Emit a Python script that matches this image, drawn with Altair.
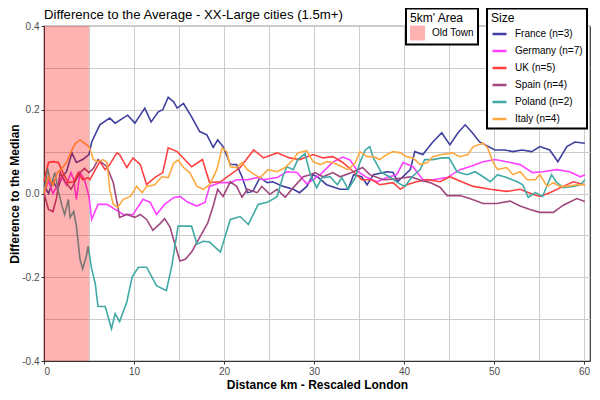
import altair as alt
import pandas as pd

chart_title = ["Difference to the Average - XX-Large cities (1.5m+)"]
countries = ["France (n=3)", "Germany (n=7)", "UK (n=5)", "Spain (n=4)", "Poland (n=2)", "Italy (n=4)"]
colors = ["#4040A0", "#FF40FF", "#FF4040", "#A0487E", "#40AAA5", "#FFA940"]

# (distance km, difference to the median)
france = [(0, 0.02), (0.5, 0.0), (1, 0.03), (1.5, 0.01), (2, 0.04), (2.5, 0.052), (3.1, 0.097), (3.6, 0.074),
          (4.3, 0.081), (5.0, 0.093), (5.3, 0.123), (6.2, 0.164), (7.3, 0.18), (7.9, 0.168), (9.3, 0.187),
          (10.1, 0.168), (11.2, 0.204), (11.9, 0.171), (12.7, 0.195), (13.2, 0.2), (13.8, 0.23), (14.4, 0.219),
          (14.8, 0.204), (15.5, 0.215), (16.4, 0.183), (17.3, 0.148), (18.1, 0.14), (18.8, 0.11), (19.3, 0.128),
          (19.9, 0.112), (20.7, 0.07), (21.4, 0.069), (22.0, 0.04), (22.6, 0.002), (23.2, 0.005), (24.0, 0.038),
          (24.8, 0.026), (25.4, 0.028), (26.6, 0.017), (27.7, 0.01), (28.4, 0.002), (29.2, 0.017), (29.9, 0.045),
          (30.5, 0.038), (31.4, 0.021), (32.9, 0.01), (33.8, 0.01), (34.4, 0.045), (35.3, 0.04), (35.9, 0.021),
          (36.6, 0.045), (38.1, 0.052), (38.8, 0.05), (39.3, 0.028), (40.7, 0.057), (41.2, 0.1), (42.1, 0.093),
          (43.2, 0.123), (44.2, 0.145), (45.1, 0.116), (46.0, 0.145), (46.8, 0.164), (47.6, 0.145), (48.4, 0.123),
          (50.1, 0.104), (51.2, 0.104), (52.1, 0.1), (53.1, 0.104), (54.2, 0.1), (55.1, 0.112), (56.2, 0.104),
          (57.1, 0.076), (58.1, 0.112), (59.0, 0.123), (60.1, 0.12)]

germany = [(0, 0.0), (0.5, 0.03), (1, 0.0), (1.5, 0.02), (2, 0.04), (2.5, 0.02), (3, 0.05), (3.3, 0.033),
           (3.6, -0.014), (4, 0.05), (4.5, 0.033), (5, -0.007), (5.3, -0.062), (6, -0.026), (7, -0.026),
           (7.9, -0.038), (8.8, -0.05), (9.9, -0.05), (11, -0.014), (11.8, -0.021), (12.5, -0.05), (13.4, -0.026),
           (14.4, -0.01), (15.1, -0.007), (16, -0.021), (17, -0.03), (17.9, -0.021), (18.4, 0.017), (19.6, 0.026),
           (20.7, 0.026), (21.4, 0.033), (22.6, 0.033), (23.7, 0.038), (24.4, 0.033), (25.9, 0.038), (27, 0.052),
           (28.1, 0.05), (29.2, 0.023), (30.7, 0.045), (32.1, 0.075), (33.2, 0.087), (34, 0.08), (34.9, 0.052),
           (35.9, 0.038), (37, 0.028), (38.1, 0.038), (39.2, 0.045), (39.9, 0.074), (41, 0.064), (42.1, 0.033),
           (43.2, 0.033), (44.8, 0.038), (46.2, 0.057), (47.3, 0.064), (48.8, 0.076), (50.1, 0.081), (51.4, 0.076),
           (52.9, 0.069), (54.3, 0.05), (55.4, 0.052), (57, 0.057), (58.4, 0.052), (59.6, 0.04), (60.1, 0.045)]

uk = [(0, 0.03), (0.5, 0.074), (1, 0.076), (1.6, 0.074), (2.1, 0.05), (2.7, 0.026), (3.3, 0.028), (3.8, 0.05),
      (4.3, 0.033), (4.9, 0.038), (5.1, 0.033), (5.7, 0.057), (6.2, 0.076), (6.8, 0.057), (7.3, 0.069),
      (8.1, 0.097), (8.4, 0.093), (9.2, 0.062), (9.9, 0.085), (10.7, 0.069), (11.4, 0.021), (12.3, 0.038),
      (13.2, 0.05), (13.8, 0.109), (14.8, 0.1), (15.1, 0.093), (16.4, 0.064), (17.6, 0.081), (18.4, 0.026),
      (19.6, 0.028), (20.7, 0.045), (21.8, 0.062), (23.3, 0.104), (24.4, 0.085), (25.9, 0.097), (27.3, 0.085),
      (28.4, 0.081), (29.9, 0.093), (31, 0.085), (32.1, 0.088), (33.2, 0.074), (34.4, 0.052), (35.3, 0.033),
      (36.4, 0.033), (37.3, 0.021), (38.8, 0.026), (39.6, 0.01), (40.3, 0.021), (41.4, 0.028), (42.6, 0.033),
      (44, 0.028), (45.1, 0.04), (46.2, 0.03), (47.7, 0.017), (49.6, 0.01), (51.4, 0.005), (52.9, 0.01),
      (54.3, -0.002), (55.1, -0.007), (56.2, 0.002), (57.7, 0.017), (58.8, 0.028), (60.1, 0.021)]

spain = [(0, 0.0), (0.5, -0.038), (1, -0.043), (1.4, -0.01), (1.8, 0.05), (2.3, 0.03), (3, 0.01), (3.5, 0.03),
         (4, 0.05), (4.5, 0.06), (5, 0.05), (5.5, 0.06), (6, 0.081), (7, 0.064), (7.7, 0.026), (8.2, -0.031),
         (8.4, -0.057), (9.2, -0.05), (10.1, -0.057), (10.7, -0.05), (11.4, -0.062), (12.1, -0.088), (12.9, -0.072),
         (13.4, -0.06), (14, -0.08), (14.4, -0.11), (15.1, -0.161), (15.7, -0.157), (16.4, -0.14), (17.3, -0.105),
         (18.2, -0.07), (18.8, -0.03), (19.3, 0.01), (19.9, -0.007), (20.7, 0.028), (21.4, 0.017), (22, -0.009),
         (22.6, 0.01), (23.7, 0.002), (24.2, 0.017), (25.1, -0.002), (25.9, 0.01), (26.8, -0.009), (27.7, 0.014),
         (28.8, 0.04), (29.6, 0.045), (30.1, 0.05), (31, 0.04), (32.1, 0.05), (32.9, 0.04), (34.4, 0.052),
         (35.4, 0.062), (36.2, 0.045), (37.7, 0.033), (39.2, 0.035), (40.7, 0.04), (41.8, 0.032), (42.9, 0.026),
         (44, 0.015), (44.8, -0.005), (46.2, -0.005), (47.3, -0.012), (48.8, -0.024), (50.3, -0.024), (51.8, -0.018),
         (52.9, -0.03), (54, -0.038), (55.1, -0.045), (56.6, -0.045), (57.7, -0.028), (59.2, -0.012), (60.1, -0.019)]

poland = [(0, 0.0), (0.4, 0.06), (0.8, 0.02), (1.2, 0.05), (1.6, 0.005), (2.0, -0.03), (2.3, -0.05), (2.7, -0.014),
          (2.9, -0.057), (3.3, -0.043), (3.6, -0.078), (4.0, -0.157), (4.3, -0.18), (4.7, -0.15), (4.9, -0.126),
          (5.3, -0.18), (5.7, -0.216), (6.0, -0.27), (6.8, -0.27), (7.5, -0.323), (7.9, -0.287), (8.4, -0.306),
          (9.2, -0.259), (9.8, -0.199), (10.5, -0.176), (11.4, -0.176), (12.5, -0.22), (13.6, -0.232), (14.2, -0.173),
          (14.9, -0.078), (15.7, -0.078), (16.4, -0.078), (17.0, -0.121), (17.7, -0.114), (18.4, -0.116),
          (19.6, -0.14), (20.7, -0.062), (21.8, -0.055), (22.7, -0.074), (23.8, -0.026), (24.8, -0.021),
          (25.4, -0.014), (25.9, -0.007), (26.6, 0.045), (27.0, 0.064), (27.7, 0.057), (28.2, 0.081), (29.0, 0.095),
          (29.6, 0.045), (30.3, 0.014), (30.9, 0.038), (31.8, 0.04), (32.6, 0.021), (33.1, 0.038), (33.8, 0.01),
          (34.6, 0.038), (35.1, 0.074), (35.7, 0.104), (36.2, 0.112), (36.6, 0.085), (37.5, 0.05), (38.4, 0.04),
          (39.3, 0.026), (40.1, 0.017), (40.9, 0.04), (41.8, 0.057), (42.3, 0.081), (43.2, 0.081), (44.2, 0.085),
          (45.0, 0.085), (45.9, 0.052), (47.0, 0.045), (47.9, 0.052), (48.8, 0.04), (49.6, 0.028), (50.4, 0.045),
          (51.4, 0.038), (52.6, 0.028), (53.2, 0.021), (53.8, -0.009), (54.6, 0.002), (55.4, -0.007), (56.4, 0.045),
          (56.9, 0.028), (57.7, 0.014), (58.8, 0.017), (59.6, 0.021), (60.1, 0.033)]

italy = [(0, 0.0), (0.5, 0.04), (1, 0.02), (1.5, 0.05), (2, 0.06), (2.5, 0.074), (3.1, 0.104), (3.5, 0.12),
         (4, 0.128), (4.5, 0.12), (5, 0.112), (5.5, 0.081), (6, 0.076), (6.6, 0.081), (7, 0.074), (7.3, 0.01),
         (7.7, -0.026), (8.2, -0.033), (8.8, -0.014), (9.6, -0.007), (10.3, 0.017), (10.9, 0.002), (11.4, 0.017),
         (12.3, 0.021), (13.1, 0.04), (13.8, 0.038), (14.4, 0.072), (14.9, 0.08), (15.5, 0.062), (16.2, 0.05),
         (17, 0.017), (17.7, 0.01), (18.4, 0.021), (19.2, 0.057), (19.8, 0.109), (20.3, 0.1), (20.7, 0.064),
         (21.4, 0.062), (22, 0.074), (22.6, 0.057), (23.4, 0.045), (24, 0.038), (24.9, 0.057), (25.9, 0.052),
         (26.8, 0.062), (27.7, 0.081), (28.2, 0.097), (29.2, 0.102), (29.9, 0.076), (30.7, 0.069), (31.4, 0.076),
         (32.1, 0.074), (33.1, 0.064), (33.8, 0.057), (34.6, 0.074), (35.1, 0.1), (35.9, 0.088), (36.6, 0.088),
         (37.3, 0.081), (38.1, 0.093), (38.8, 0.1), (39.6, 0.097), (40.3, 0.088), (41, 0.085), (41.8, 0.069),
         (42.6, 0.074), (43.2, 0.088), (44.2, 0.093), (45.4, 0.097), (46.2, 0.088), (47.1, 0.093), (47.7, 0.112),
         (48.8, 0.12), (49.3, 0.109), (49.9, 0.074), (50.4, 0.057), (51.4, 0.062), (52.1, 0.045), (52.9, 0.052),
         (53.7, 0.033), (54.6, 0.033), (55.1, 0.045), (55.9, 0.017), (56.6, 0.026), (57.3, 0.017), (58.1, 0.017),
         (59.2, 0.021), (60.1, 0.021)]

old_town_start = [0]
old_town_end = [5]
old_town_label = ["Old Town"]

x_grid = list(range(0, 61, 5))
y_grid = [round(-0.4 + 0.1 * i, 1) for i in range(9)]

rows = []
for name, series in zip(countries, [france, germany, uk, spain, poland, italy]):
    for i, (km, v) in enumerate(series):
        rows.append({"country": name, "km": km, "value": v, "idx": i})
df = pd.DataFrame(rows)

area_df = pd.DataFrame({"start": old_town_start, "end": old_town_end, "area": old_town_label})
title_df = pd.DataFrame({"t": chart_title})

FONT = "Liberation Sans"

x_axis = alt.Axis(
    values=x_grid,
    labelExpr="datum.value % 10 == 0 ? datum.label : ''",
    tickOpacity={"condition": {"test": "datum.value % 10 == 0", "value": 1}, "value": 0},
    title="Distance km - Rescaled London",
    titleFontSize=12, titleFontWeight="bold", titleColor="black", titlePadding=3,
    labelFontSize=10, labelColor="#4D4D4D", labelPadding=2,
    tickSize=3, tickColor="#333333", domainColor="#333333",
    grid=True, gridColor="#CCCCCC", gridWidth=1,
)
y_axis = alt.Axis(
    values=y_grid,
    labelExpr="abs(round(datum.value*10)) % 2 == 0 ? replace(format(datum.value, '.1f'), '\u2212', '-') : ''",
    tickOpacity={"condition": {"test": "abs(round(datum.value*10)) % 2 == 0", "value": 1}, "value": 0},
    title="Difference to the Median",
    titleFontSize=12, titleFontWeight="bold", titleColor="black", titlePadding=0,
    labelFontSize=10, labelColor="#4D4D4D", labelPadding=2,
    tickSize=3, tickColor="#333333", domainColor="#333333",
    grid=True, gridColor="#CCCCCC", gridWidth=1,
)
x_scale = alt.Scale(domain=[0, 60.67], nice=False, zero=False)
y_scale = alt.Scale(domain=[-0.4, 0.4], nice=False)

lines = alt.Chart(df).mark_line(strokeWidth=1.6).encode(
    x=alt.X("km:Q", scale=x_scale, axis=x_axis),
    y=alt.Y("value:Q", scale=y_scale, axis=y_axis),
    color=alt.Color(
        "country:N",
        scale=alt.Scale(domain=countries, range=colors),
        legend=alt.Legend(
            title="Size", orient="none", legendX=443, legendY=-17.5,
            symbolType="stroke", symbolSize=196, symbolStrokeWidth=2.5,
            rowPadding=3, labelOffset=7, padding=4, titlePadding=1,
            strokeColor="black", fillColor="white",
        ),
    ),
    order="idx:Q",
)

area = alt.Chart(area_df).mark_rect(opacity=0.3).encode(
    x=alt.X("start:Q", scale=x_scale, axis=x_axis),
    x2="end:Q",
    fill=alt.Fill(
        "area:N",
        scale=alt.Scale(domain=old_town_label, range=["#FF0000"]),
        legend=alt.Legend(
            title="5km' Area", orient="none", legendX=362, legendY=-17.5,
            symbolType="square", symbolSize=225, symbolOpacity=0.3, symbolStrokeWidth=0,
            labelOffset=7, padding=4, titlePadding=1,
            strokeColor="black", fillColor="white",
        ),
    ),
)

title_text = alt.Chart(title_df).mark_text(
    align="left", baseline="alphabetic", fontSize=13.2, color="black", font=FONT
).encode(x=alt.value(0), y=alt.value(-7), text="t:N")

chart = alt.layer(lines, area, title_text).resolve_scale(color="independent").properties(
    width=546, height=335,
    autosize=alt.AutoSizeParams(type="none"),
    padding={"left": 36, "top": 18, "right": 2, "bottom": 31},
).configure(font=FONT).configure_view(
    stroke="#333333", strokeWidth=1.2
).configure_legend(
    labelFontSize=10, titleFontSize=12, titleFontWeight="normal", labelColor="black", titleColor="black",
    strokeWidth=2,
)

chart.save("out.html", embed_options={"renderer": "svg", "actions": False})
